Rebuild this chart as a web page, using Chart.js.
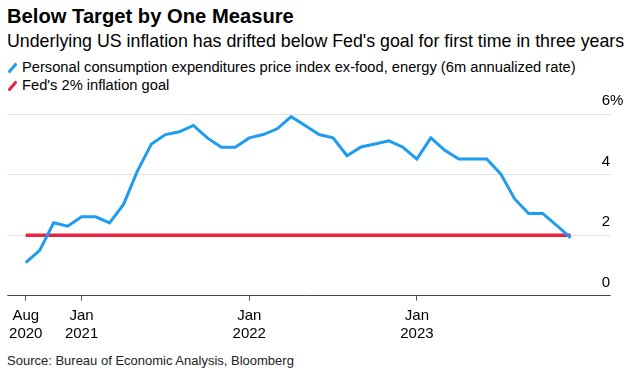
<!DOCTYPE html>
<html>
<head>
<meta charset="utf-8">
<script src="https://cdn.jsdelivr.net/npm/chart.js@4"></script>
<style>
  body { margin: 0; background: #fff; font-family: "Liberation Sans", Arial, sans-serif; color: #000; }
  #wrap { position: relative; width: 629px; height: 376px; overflow: hidden; }
  .txt { position: absolute; left: 7px; white-space: nowrap; }
  #title { top: 4px; font-size: 20.2px; font-weight: bold; line-height: 24px; }
  #subtitle { top: 31px; font-size: 17.8px; line-height: 20px; }
  .leg { left: 8px; font-size: 14.7px; line-height: 18px; }
  .leg i { display: inline-block; width: 3px; height: 12px; margin: 0 8px 0 3px; vertical-align: -2px; transform: rotate(40deg); border-radius: 1px; }
  #leg1 { top: 58px; }
  #leg2 { top: 76px; }
  #source { top: 353px; font-size: 13px; line-height: 16px; color: #222; }
  #chartBox { position: absolute; left: 0; top: 90px; width: 629px; height: 260px; }
</style>
</head>
<body>
<div id="wrap">
  <div id="title" class="txt">Below Target by One Measure</div>
  <div id="subtitle" class="txt">Underlying US inflation has drifted below Fed's goal for first time in three years</div>
  <div id="leg1" class="txt leg"><i style="background:#1e9cf0"></i>Personal consumption expenditures price index ex-food, energy (6m annualized rate)</div>
  <div id="leg2" class="txt leg"><i style="background:#e8233f"></i>Fed's 2% inflation goal</div>
  <div id="chartBox"><canvas id="chart"></canvas></div>
  <div id="source" class="txt">Source: Bureau of Economic Analysis, Bloomberg</div>
</div>
<script>
// monthly, Aug 2020 .. Nov 2023
const months = [];
for (let i = 0; i < 40; i++) {
    const d = new Date(2020, 7 + i, 1);
    months.push(d.getFullYear() + '-' + String(d.getMonth() + 1).padStart(2, '0'));
}

const pceCore = [
    1.09, 1.5, 2.41, 2.3, 2.61, 2.61, 2.41, 3.02, 4.13, 5.02,
    5.33, 5.42, 5.63, 5.22, 4.91, 4.91, 5.22, 5.33, 5.52, 5.92,
    5.63, 5.33, 5.22, 4.63, 4.92, 5.02, 5.12, 4.91, 4.52, 5.22,
    4.81, 4.52, 4.52, 4.52, 4.03, 3.2, 2.72, 2.72, 2.33, 1.91
];
const fedGoal = 2;

const tickIndex = [0, 4, 16, 28];
const tickLabels = [['Aug', '2020'], ['Jan', '2021'], ['Jan', '2022'], ['Jan', '2023']];
const yTicks = [0, 2, 4, 6];

const ctx = document.getElementById('chart').getContext('2d');

new Chart(ctx, {
    type: 'line',
    data: {
        labels: months,
        datasets: [{
            label: 'Personal consumption expenditures price index ex-food, energy (6m annualized rate)',
            data: pceCore.map((v, i) => ({ x: i, y: v })),
            borderColor: '#1e9cf0',
            borderWidth: 3,
            pointRadius: 0,
            tension: 0
        }, {
            label: "Fed's 2% inflation goal",
            data: months.map((m, i) => ({ x: i, y: fedGoal })),
            borderColor: '#e8233f',
            borderWidth: 3.5,
            pointRadius: 0
        }]
    },
    options: {
        responsive: true,
        maintainAspectRatio: false,
        animation: false,
        layout: { padding: { top: 24.3, left: 7.3, right: 0, bottom: 0 } },
        plugins: { legend: { display: false }, tooltip: { enabled: false } },
        scales: {
            x: {
                type: 'linear',
                min: -1.32,
                max: 41.23,
                afterBuildTicks: s => { s.ticks = tickIndex.map(v => ({ value: v })); },
                afterFit: s => { s.height = 54.3; },
                border: { display: false },
                grid: { drawOnChartArea: false, drawTicks: true, tickLength: 5, color: '#555' },
                ticks: {
                    autoSkip: false,
                    maxRotation: 0,
                    padding: 5.5,
                    color: '#000',
                    font: { family: 'Liberation Sans', size: 15, lineHeight: 1.24 },
                    callback: v => tickLabels[tickIndex.indexOf(v)]
                }
            },
            y: {
                position: 'right',
                min: 0,
                max: 6,
                afterBuildTicks: s => { s.ticks = yTicks.map(v => ({ value: v })); },
                afterFit: s => { s.width = 27.3; },
                border: { display: false },
                grid: {
                    drawTicks: true,
                    tickLength: 9,
                    color: c => c.tick.value === 0 ? '#444' : '#e2e2e2',
                    lineWidth: 1
                },
                ticks: {
                    padding: -9,
                    crossAlign: 'near',
                    labelOffset: -13,
                    color: '#000',
                    font: { family: 'Liberation Sans', size: 15 },
                    callback: v => v === 6 ? '6%' : String(v)
                }
            }
        }
    }
});
</script>
</body>
</html>
